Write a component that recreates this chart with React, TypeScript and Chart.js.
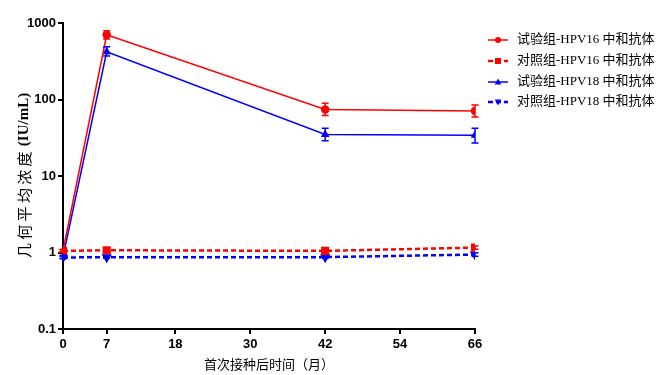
import React, { useEffect, useRef } from "react";
import { Chart, registerables } from "chart.js";

Chart.register(...registerables);

const months = [0, 7, 42, 66];
const xTicks = [0, 7, 18, 30, 42, 54, 66];
const yTicks = [0.1, 1, 10, 100, 1000];

const xTitle = "首次接种后时间（月）";
const yTitleCJK = "几何平均浓度";
const yTitleUnit = "(IU/mL)";

const seriesNames = [
  "试验组-HPV16 中和抗体",
  "对照组-HPV16 中和抗体",
  "试验组-HPV18 中和抗体",
  "对照组-HPV18 中和抗体",
];

const test16 = [1.05, 700, 74, 71];
const test16Low = [1.0, 620, 62, 59];
const test16High = [1.1, 790, 89, 85];

const ctrl16 = [1.05, 1.07, 1.05, 1.16];
const ctrl16Low = [1.02, 1.03, 1.02, 1.1];
const ctrl16High = [1.08, 1.11, 1.08, 1.22];

const test18 = [0.88, 420, 35, 34];
const test18Low = [0.84, 370, 29, 27];
const test18High = [0.92, 490, 42, 42];

const ctrl18 = [0.86, 0.87, 0.87, 0.94];
const ctrl18Low = [0.83, 0.84, 0.84, 0.89];
const ctrl18High = [0.89, 0.9, 0.9, 0.99];

const RED = "#ff0000";
const BLUE = "#0000ff";

function pts(vals: number[]) {
  return months.map((m, i) => ({ x: m, y: vals[i] }));
}

const errorBarPlugin = {
  id: "errorBars",
  afterDatasetsDraw(chart: any) {
    const ctx = chart.ctx;
    const xs = chart.scales.x;
    const ys = chart.scales.y;
    chart.data.datasets.forEach((ds: any) => {
      if (!ds.errLow) return;
      ctx.save();
      ctx.strokeStyle = ds.borderColor;
      ctx.lineWidth = 1.5;
      ctx.setLineDash([]);
      months.forEach((m, i) => {
        const px = xs.getPixelForValue(m);
        const y1 = ys.getPixelForValue(ds.errLow[i]);
        const y2 = ys.getPixelForValue(ds.errHigh[i]);
        ctx.beginPath();
        ctx.moveTo(px, y1);
        ctx.lineTo(px, y2);
        ctx.moveTo(px - 3.5, y1);
        ctx.lineTo(px + 3.5, y1);
        ctx.moveTo(px - 3.5, y2);
        ctx.lineTo(px + 3.5, y2);
        ctx.stroke();
      });
      ctx.restore();
    });
  },
};

const yTitlePlugin = {
  id: "yTitle",
  afterDraw(chart: any) {
    const ctx = chart.ctx;
    const area = chart.chartArea;
    ctx.save();
    ctx.translate(24, (area.top + area.bottom) / 2 + 82);
    ctx.rotate(-Math.PI / 2);
    ctx.fillStyle = "#000";
    ctx.textBaseline = "middle";
    ctx.textAlign = "left";
    ctx.font = "15px 'Noto Sans CJK SC', serif";
    const step = 18.3;
    Array.from(yTitleCJK).forEach((ch, i) => {
      ctx.fillText(ch, i * step, 0);
    });
    ctx.font = "bold 15px 'Liberation Serif', serif";
    ctx.fillText(yTitleUnit, yTitleCJK.length * step + 2, 0);
    ctx.restore();
  },
};

const legendPlugin = {
  id: "customLegend",
  afterDraw(chart: any) {
    const ctx = chart.ctx;
    const x0 = 488;
    const x1 = 508;
    const tx = 517;
    const rowY = [40, 61, 82, 102];
    chart.data.datasets.forEach((ds: any, i: number) => {
      const y = rowY[i];
      ctx.save();
      ctx.strokeStyle = ds.borderColor;
      ctx.fillStyle = ds.borderColor;
      ctx.lineWidth = ds.borderWidth;
      ctx.setLineDash(ds.borderDash || []);
      ctx.beginPath();
      ctx.moveTo(x0, y);
      ctx.lineTo(x1, y);
      ctx.stroke();
      ctx.setLineDash([]);
      const cx = (x0 + x1) / 2;
      const r = 3;
      ctx.beginPath();
      if (ds.pointStyle === "circle") {
        ctx.arc(cx, y, r, 0, Math.PI * 2);
      } else if (ds.pointStyle === "rect") {
        ctx.rect(cx - r, y - r, r * 2, r * 2);
      } else if (ds.pointStyle === "triangle") {
        const flip = ds.pointRotation === 180 ? -1 : 1;
        ctx.moveTo(cx, y - flip * r * 1.2);
        ctx.lineTo(cx - r * 1.1, y + flip * r * 0.8);
        ctx.lineTo(cx + r * 1.1, y + flip * r * 0.8);
        ctx.closePath();
      }
      ctx.fill();
      ctx.fillStyle = "#000";
      ctx.font = "13px 'Liberation Serif', 'Noto Sans CJK SC', serif";
      ctx.textBaseline = "middle";
      ctx.textAlign = "left";
      ctx.fillText(seriesNames[i], tx, y);
      ctx.restore();
    });
  },
};

export default function App() {
  const ref = useRef<HTMLCanvasElement | null>(null);
  useEffect(() => {
    if (!ref.current) return;
    const chart = new Chart(ref.current, {
      type: "line",
      data: {
        datasets: [
          {
            label: seriesNames[0],
            data: pts(test16),
            borderColor: RED,
            backgroundColor: RED,
            borderWidth: 1.5,
            pointStyle: "circle",
            pointRadius: 3.5,
            errLow: test16Low,
            errHigh: test16High,
          } as any,
          {
            label: seriesNames[1],
            data: pts(ctrl16),
            borderColor: RED,
            backgroundColor: RED,
            borderWidth: 2.5,
            borderDash: [5, 3],
            pointStyle: "rect",
            pointRadius: 4,
            errLow: ctrl16Low,
            errHigh: ctrl16High,
          } as any,
          {
            label: seriesNames[2],
            data: pts(test18),
            borderColor: BLUE,
            backgroundColor: BLUE,
            borderWidth: 1.5,
            pointStyle: "triangle",
            pointRadius: 3.5,
            errLow: test18Low,
            errHigh: test18High,
          } as any,
          {
            label: seriesNames[3],
            data: pts(ctrl18),
            borderColor: BLUE,
            backgroundColor: BLUE,
            borderWidth: 2.5,
            borderDash: [5, 3],
            pointStyle: "triangle",
            pointRotation: 180,
            pointRadius: 3.5,
            errLow: ctrl18Low,
            errHigh: ctrl18High,
          } as any,
        ],
      },
      options: {
        animation: false,
        responsive: false,
        layout: { padding: { top: 23, right: 184, left: 0, bottom: 0 } },
        plugins: {
          legend: { display: false },
          tooltip: { enabled: false },
        },
        scales: {
          x: {
            type: "linear",
            min: 0,
            max: 66,
            afterBuildTicks: (s: any) => {
              s.ticks = xTicks.map((v) => ({ value: v }));
            },
            afterFit: (s: any) => {
              s.height = 46;
            },
            ticks: {
              color: "#000",
              font: { family: "'Liberation Sans', Arial, sans-serif", size: 13, weight: "bold" },
              padding: 3,
              maxRotation: 0,
              autoSkip: false,
            },
            grid: {
              display: true,
              drawOnChartArea: false,
              drawTicks: true,
              tickLength: 5,
              color: "#000",
              lineWidth: 2,
            },
            border: { display: true, color: "#000", width: 2 },
            title: {
              display: true,
              text: xTitle,
              color: "#000",
              font: { family: "'Liberation Serif', 'Noto Sans CJK SC', serif", size: 13 },
              padding: { top: 0, bottom: 2 },
            },
          },
          y: {
            type: "logarithmic",
            min: 0.1,
            max: 1000,
            afterBuildTicks: (s: any) => {
              s.ticks = yTicks.map((v) => ({ value: v }));
            },
            afterFit: (s: any) => {
              s.width = 63;
            },
            ticks: {
              color: "#000",
              font: { family: "'Liberation Sans', Arial, sans-serif", size: 13, weight: "bold" },
              padding: 2,
              autoSkip: false,
              callback: (v: any) => String(v),
            },
            grid: {
              display: true,
              drawOnChartArea: false,
              drawTicks: true,
              tickLength: 5,
              color: "#000",
              lineWidth: 2,
            },
            border: { display: true, color: "#000", width: 2 },
            title: { display: false },
          },
        },
      },
      plugins: [errorBarPlugin, yTitlePlugin, legendPlugin],
    } as any);
    return () => chart.destroy();
  }, []);
  return (
    <div style={{ position: "fixed", left: 0, top: 0, width: 659, height: 375, background: "#fff" }}>
      <canvas ref={ref} width={659} height={375} style={{ display: "block" }} />
    </div>
  );
}
